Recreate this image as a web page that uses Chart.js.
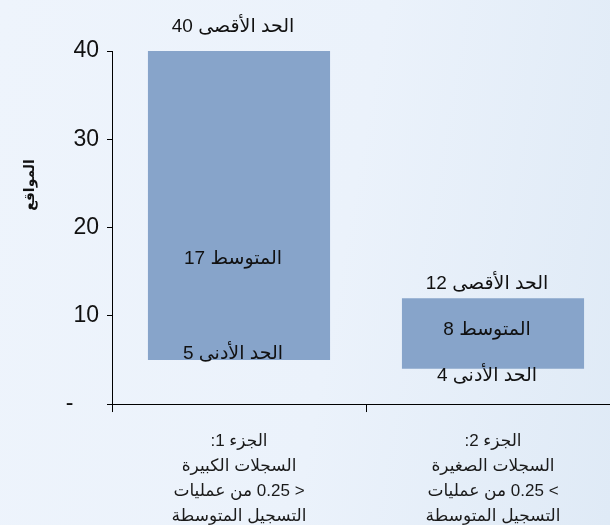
<!DOCTYPE html>
<html lang="ar">
<head>
<meta charset="utf-8">
<script src="https://cdn.jsdelivr.net/npm/chart.js@4"></script>
<style>
  html, body {
    margin: 0;
    padding: 0;
    width: 610px;
    height: 525px;
    overflow: hidden;
    background: linear-gradient(100deg, #eef4fc 0%, #ebf2fb 55%, #dfeaf6 100%);
  }
  #wrap {
    position: absolute;
    left: 0;
    top: 0;
    width: 620px;
    height: 548px;
  }
</style>
</head>
<body>
<div id="wrap">
  <canvas id="rangeChart" dir="rtl" width="620" height="548"></canvas>
</div>
<script>
// Categories (one array of lines per part)
const categories = [
    ['الجزء 1:', 'السجلات الكبيرة', '< 0.25 من عمليات', 'التسجيل المتوسطة'],
    ['الجزء 2:', 'السجلات الصغيرة', '> 0.25 من عمليات', 'التسجيل المتوسطة']
];

// Values
const minValues = [5, 4];
const maxValues = [40, 12];
const meanValues = [17, 8];

// Y axis ticks
const yTicks = [0, 10, 20, 30, 40];
const yTitle = 'المواقع';

// Label wording
const maxWord = 'الحد الأقصى';
const meanWord = 'المتوسط';
const minWord = 'الحد الأدنى';

// Nudges for the value labels, in pixels (the labels were hand-placed in the original)
const maxLabelShift = [-24, -14];
const meanLabelShift = [5, -4];
const minLabelShift = [-6, 7];
const labelShiftX = -6;

const barColor = '#87a4ca';
const fontFamily = "Arial, 'Liberation Sans', 'DejaVu Sans', sans-serif";

// Floating bars from min to max
const rangeData = minValues.map((lo, i) => [lo, maxValues[i]]);

// Draws the max / mean / min labels next to each bar, plus the rotated y title
const rangeLabels = {
    id: 'rangeLabels',
    afterDatasetsDraw(chart) {
        const ctx = chart.ctx;
        const yScale = chart.scales.y;
        const bars = chart.getDatasetMeta(0).data;

        ctx.save();
        ctx.direction = 'rtl';
        ctx.fillStyle = '#111111';
        ctx.font = '19px ' + fontFamily;
        ctx.textAlign = 'center';
        ctx.textBaseline = 'middle';

        bars.forEach((bar, i) => {
            const x = bar.x + labelShiftX;
            ctx.fillText(maxWord + ' ' + maxValues[i], x, yScale.getPixelForValue(maxValues[i]) + maxLabelShift[i]);
            ctx.fillText(meanWord + ' ' + meanValues[i], x, yScale.getPixelForValue(meanValues[i]) + meanLabelShift[i]);
            ctx.fillText(minWord + ' ' + minValues[i], x, yScale.getPixelForValue(minValues[i]) + minLabelShift[i]);
        });

        // y axis title, rotated, sitting left of the tick labels
        const area = chart.chartArea;
        ctx.font = 'bold 14px ' + fontFamily;
        ctx.translate(area.left - 82, area.top + 134);
        ctx.rotate(-Math.PI / 2);
        ctx.fillText(yTitle, 0, 0);
        ctx.restore();
    }
};

new Chart(document.getElementById('rangeChart'), {
    type: 'bar',
    data: {
        labels: categories,
        datasets: [{
            data: rangeData,
            backgroundColor: barColor,
            borderWidth: 0,
            categoryPercentage: 1,
            barPercentage: 0.717
        }]
    },
    options: {
        responsive: false,
        devicePixelRatio: 1,
        animation: false,
        layout: {
            padding: { top: 51, right: 0, bottom: 2, left: 0 }
        },
        plugins: {
            legend: { display: false },
            tooltip: { enabled: false }
        },
        scales: {
            x: {
                offset: true,
                grid: {
                    offset: true,
                    drawOnChartArea: false,
                    color: '#000000',
                    tickLength: 8
                },
                border: { color: '#000000', width: 1 },
                ticks: {
                    color: '#1a1a1a',
                    padding: 17,
                    maxRotation: 0,
                    autoSkip: false,
                    font: { family: fontFamily, size: 17, lineHeight: 1.47 }
                }
            },
            y: {
                min: yTicks[0],
                max: yTicks[yTicks.length - 1],
                afterBuildTicks: (scale) => {
                    scale.ticks = yTicks.map(v => ({ value: v }));
                },
                afterFit: (scale) => {
                    scale.width = 112;
                },
                grid: {
                    drawOnChartArea: false,
                    color: '#000000',
                    tickLength: 5
                },
                border: { color: '#000000', width: 1 },
                ticks: {
                    color: '#111111',
                    padding: 8,
                    font: { family: fontFamily, size: 23 },
                    // the zero tick shows as a dash, set a bit left like the original
                    callback: (v) => v === 0 ? '    -' : String(v)
                }
            }
        }
    },
    plugins: [rangeLabels]
});
</script>
</body>
</html>
